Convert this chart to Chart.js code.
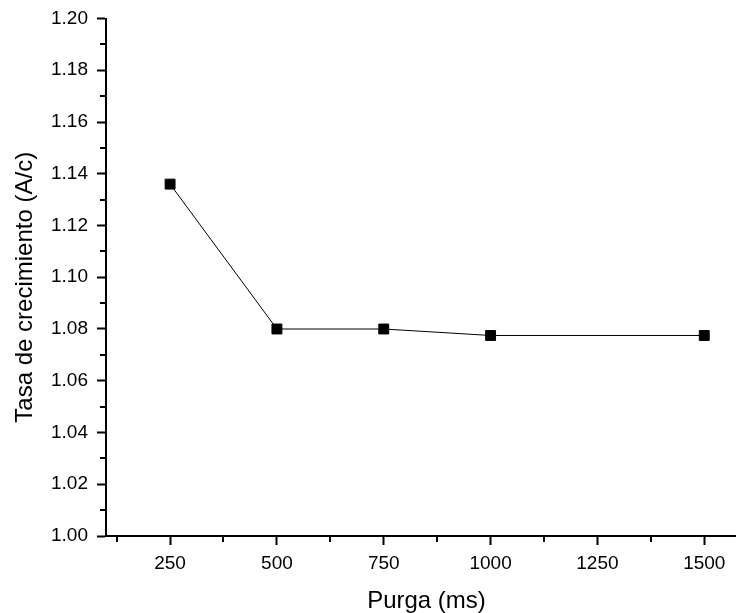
<!DOCTYPE html>
<html>
<head>
<meta charset="utf-8">
<script src="https://cdn.jsdelivr.net/npm/chart.js@4/dist/chart.umd.min.js"></script>
<style>
  html, body { margin: 0; padding: 0; background: #fff; overflow: hidden; }
  #wrap { width: 736px; height: 613px; overflow: hidden; }
</style>
</head>
<body>
<div id="wrap"><canvas id="growthChart" width="755" height="613"></canvas></div>
<script>
// data
const purga = [250, 500, 750, 1000, 1500];
const tasa = [1.136, 1.080, 1.080, 1.0775, 1.0775];

const xMajor = [250, 500, 750, 1000, 1250, 1500];
const xMinor = [125, 375, 625, 875, 1125, 1375];
const yMajor = [1.00, 1.02, 1.04, 1.06, 1.08, 1.10, 1.12, 1.14, 1.16, 1.18, 1.20];
const yMinor = [1.01, 1.03, 1.05, 1.07, 1.09, 1.11, 1.13, 1.15, 1.17, 1.19];

const FONT = '"Liberation Sans", Arial, sans-serif';

function isMajor(list, v) {
  return list.some(m => Math.abs(m - v) < 1e-6);
}

// short minor ticks, drawn through the scales
const minorTicks = {
  id: 'minorTicks',
  afterDraw(chart) {
    const c = chart.ctx;
    const xs = chart.scales.x, ys = chart.scales.y;
    const a = chart.chartArea;
    c.save();
    c.strokeStyle = '#000';
    c.lineWidth = 2;
    c.beginPath();
    xMinor.forEach(v => {
      const px = Math.round(xs.getPixelForValue(v));
      c.moveTo(px, a.bottom);
      c.lineTo(px, a.bottom + 6);
    });
    yMinor.forEach(v => {
      const py = Math.round(ys.getPixelForValue(v));
      c.moveTo(a.left, py);
      c.lineTo(a.left - 6, py);
    });
    c.stroke();
    c.restore();
  }
};

function majorTickColor(major) {
  return function (c) {
    if (!c.tick) return '#000';
    return isMajor(major, c.tick.value) ? '#000' : 'rgba(0,0,0,0)';
  };
}

new Chart(document.getElementById('growthChart'), {
  type: 'line',
  data: {
    datasets: [{
      data: purga.map((x, i) => ({ x: x, y: tasa[i] })),
      borderColor: '#000',
      borderWidth: 1,
      backgroundColor: '#000',
      pointStyle: 'rect',
      pointRadius: 7,
      pointBorderWidth: 1,
      pointBackgroundColor: '#000',
      pointBorderColor: '#000',
      tension: 0
    }]
  },
  plugins: [minorTicks],
  options: {
    responsive: false,
    animation: false,
    layout: { padding: { top: 18, right: 0, left: 0, bottom: 0 } },
    plugins: {
      legend: { display: false },
      tooltip: { enabled: false }
    },
    scales: {
      x: {
        type: 'linear',
        min: 100,
        max: 1600,
        afterBuildTicks: function (scale) {
          scale.ticks = xMajor.concat(xMinor).sort((a, b) => a - b).map(v => ({ value: v }));
        },
        grid: {
          display: true,
          drawOnChartArea: false,
          drawTicks: true,
          tickLength: 9,
          tickWidth: 2,
          tickColor: majorTickColor(xMajor)
        },
        border: { display: true, color: '#000', width: 2 },
        ticks: {
          autoSkip: false,
          maxRotation: 0,
          color: '#000',
          padding: 9,
          font: { family: FONT, size: 19, lineHeight: 1.0 },
          callback: function (v) { return isMajor(xMajor, v) ? String(v) : ''; }
        },
        title: {
          display: true,
          text: 'Purga (ms)',
          color: '#000',
          font: { family: FONT, size: 24, lineHeight: 1.0 },
          padding: { top: 7, bottom: 0 }
        }
      },
      y: {
        type: 'linear',
        min: 1.00,
        max: 1.20,
        afterBuildTicks: function (scale) {
          scale.ticks = yMajor.concat(yMinor).sort((a, b) => a - b).map(v => ({ value: v }));
        },
        grid: {
          display: true,
          drawOnChartArea: false,
          drawTicks: true,
          tickLength: 9,
          tickWidth: 2,
          tickColor: majorTickColor(yMajor)
        },
        border: { display: true, color: '#000', width: 2 },
        ticks: {
          autoSkip: false,
          color: '#000',
          padding: 9,
          font: { family: FONT, size: 19, lineHeight: 1.0 },
          callback: function (v) { return isMajor(yMajor, v) ? v.toFixed(2) : ''; }
        },
        title: {
          display: true,
          text: 'Tasa de crecimiento (A/c)   ',
          color: '#000',
          font: { family: FONT, size: 24, lineHeight: 1.0 },
          padding: { top: 13, bottom: 5 }
        }
      }
    }
  }
});
</script>
</body>
</html>
